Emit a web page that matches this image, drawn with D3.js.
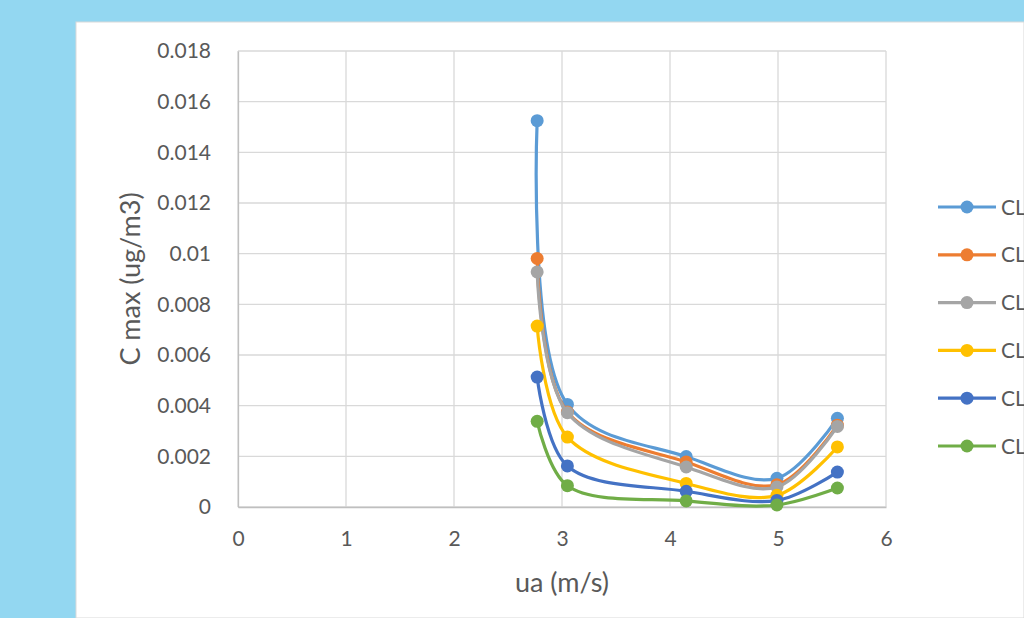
<!DOCTYPE html>
<html>
<head>
<meta charset="utf-8">
<script src="https://cdn.jsdelivr.net/npm/d3@7"></script>
<style>
  html, body { margin: 0; padding: 0; background: #93d7f1; }
  svg { display: block; }
  text { font-family: Lato, "Open Sans", "Liberation Sans", sans-serif; fill: #595959; }
</style>
</head>
<body>
<svg id="chart" width="1024" height="618"></svg>
<script>
// Wind speed (m/s) at which the maximum concentration was computed
const windSpeed = [2.77, 3.05, 4.15, 4.99, 5.55];

// Maximum concentration (ug/m3) for each series
const seriesNames = ["CL", "CL", "CL", "CL", "CL", "CL"];
const seriesColors = ["#5b9bd5", "#ed7d31", "#a5a5a5", "#ffc000", "#4472c4", "#70ad47"];
const cl1 = [0.01525, 0.00405, 0.00199, 0.00113, 0.00350];
const cl2 = [0.00981, 0.00375, 0.00178, 0.00088, 0.00323];
const cl3 = [0.00928, 0.00372, 0.00158, 0.00079, 0.00318];
const cl4 = [0.00714, 0.00276, 0.00093, 0.00046, 0.00237];
const cl5 = [0.00513, 0.00162, 0.00062, 0.00026, 0.00138];
const cl6 = [0.00338, 0.00084, 0.00024, 0.00008, 0.00075];
const seriesValues = [cl1, cl2, cl3, cl4, cl5, cl6];

const xTicks = [0, 1, 2, 3, 4, 5, 6];
const yTicks = [0, 0.002, 0.004, 0.006, 0.008, 0.01, 0.012, 0.014, 0.016, 0.018];

const svg = d3.select("#chart");

// white chart panel
svg.append("rect")
  .attr("x", 76).attr("y", 22)
  .attr("width", 1024 - 76).attr("height", 618 - 22)
  .attr("fill", "#ffffff")
  .attr("stroke", "#d9d9d9").attr("stroke-width", 1);

const plot = { left: 238, right: 886, top: 51, bottom: 507 };

const x = d3.scaleLinear().domain([0, 6]).range([plot.left, plot.right]);
const y = d3.scaleLinear().domain([0, 0.018]).range([plot.bottom, plot.top]);

// gridlines
const grid = svg.append("g");
grid.selectAll("line.h").data(yTicks).join("line")
  .attr("x1", plot.left).attr("x2", plot.right)
  .attr("y1", d => y(d)).attr("y2", d => y(d))
  .attr("stroke", "#d9d9d9").attr("stroke-width", 1.3);
grid.selectAll("line.v").data(xTicks).join("line")
  .attr("x1", d => x(d)).attr("x2", d => x(d))
  .attr("y1", plot.top).attr("y2", plot.bottom)
  .attr("stroke", "#d9d9d9").attr("stroke-width", 1.3);

// axes
const tickFont = 21;
const fmtY = d => d === 0 ? "0" : d3.format(".3~f")(d);
const yAxis = svg.append("g")
  .attr("transform", `translate(${plot.left},0)`)
  .call(d3.axisLeft(y).tickValues(yTicks).tickFormat(fmtY).tickSize(0).tickPadding(27));
yAxis.select(".domain").attr("stroke", "#bfbfbf").attr("stroke-width", 1.3);
yAxis.selectAll("text").attr("font-size", tickFont).style("font-family", "Lato, 'Open Sans', sans-serif").attr("fill", "#595959");

const xAxis = svg.append("g")
  .attr("transform", `translate(0,${plot.bottom})`)
  .call(d3.axisBottom(x).tickValues(xTicks).tickFormat(d3.format("d")).tickSize(0).tickPadding(24));
xAxis.select(".domain").attr("stroke", "#bfbfbf").attr("stroke-width", 1.3);
xAxis.selectAll("text").attr("font-size", tickFont).style("font-family", "Lato, 'Open Sans', sans-serif").attr("fill", "#595959");

// axis titles
svg.append("text")
  .attr("x", 562).attr("y", 592)
  .attr("text-anchor", "middle").attr("font-size", 27)
  .text("ua (m/s)");
svg.append("text")
  .attr("transform", `translate(140,${(plot.top + plot.bottom) / 2}) rotate(-90)`)
  .attr("text-anchor", "middle").attr("font-size", 27)
  .text("C max (ug/m3)");

// smoothed series lines with markers
const line = d3.line()
  .x((d, i) => x(windSpeed[i]))
  .y(d => y(d))
  .curve(d3.curveCatmullRom.alpha(0.5));

const series = svg.append("g").selectAll("g")
  .data(seriesValues).join("g");
series.append("path")
  .attr("d", d => line(d))
  .attr("fill", "none")
  .attr("stroke", (d, i) => seriesColors[i])
  .attr("stroke-width", 3.2)
  .attr("stroke-linejoin", "round");
series.each(function(vals, si) {
  d3.select(this).selectAll("circle").data(vals).join("circle")
    .attr("cx", (d, i) => x(windSpeed[i]))
    .attr("cy", d => y(d))
    .attr("r", 6.5)
    .attr("fill", seriesColors[si]);
});

// legend
const legend = svg.append("g").selectAll("g")
  .data(seriesNames).join("g")
  .attr("transform", (d, i) => `translate(938,${207 + i * 47.8})`);
legend.append("line")
  .attr("x1", 0).attr("x2", 58).attr("y1", 0).attr("y2", 0)
  .attr("stroke", (d, i) => seriesColors[i]).attr("stroke-width", 3.2);
legend.append("circle")
  .attr("cx", 29).attr("cy", 0).attr("r", 6.5)
  .attr("fill", (d, i) => seriesColors[i]);
legend.append("text")
  .attr("x", 63).attr("y", 0).attr("dy", "0.36em")
  .attr("font-size", tickFont)
  .text(d => d);
</script>
</body>
</html>
